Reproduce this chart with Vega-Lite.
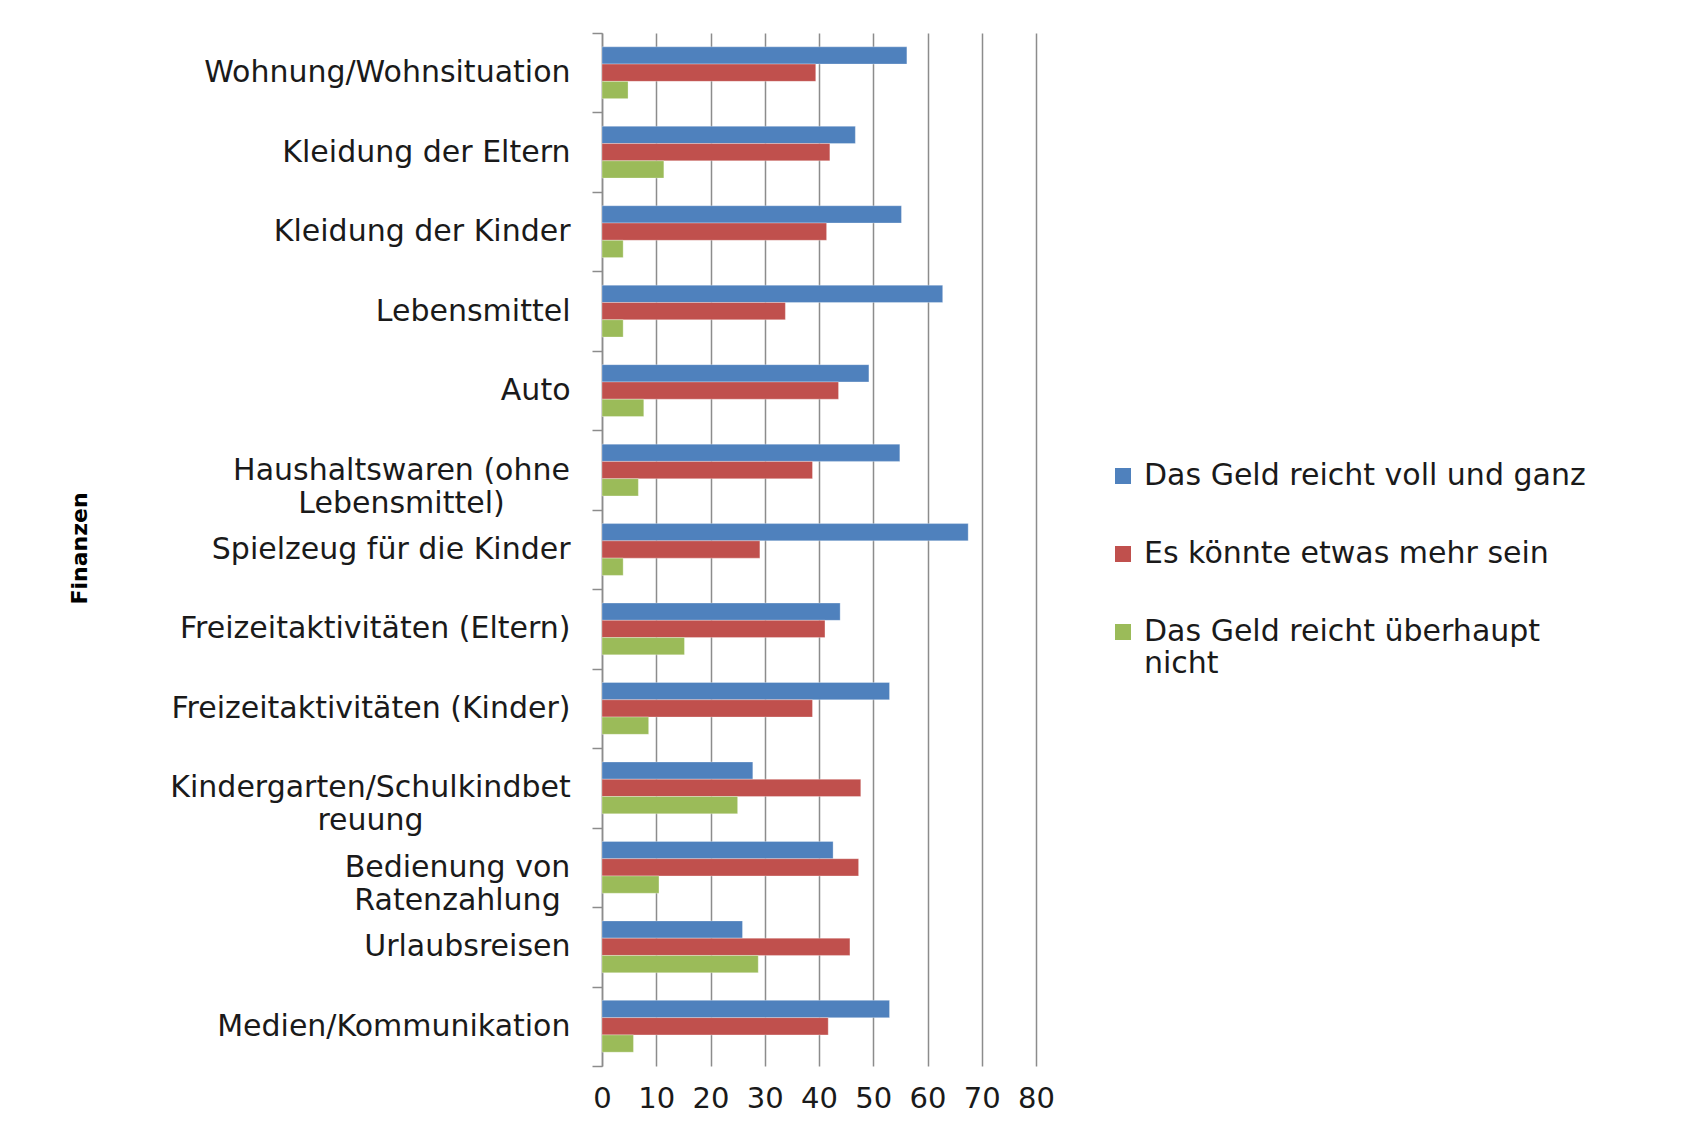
{
  "$schema": "https://vega.github.io/schema/vega-lite/v6.json",
  "width": 434,
  "height": 1033,
  "autosize": {"type": "none"},
  "padding": {"left": 602, "top": 33, "right": 652, "bottom": 61},
  "background": "white",
  "config": {
    "font": "DejaVu Sans",
    "view": {"stroke": null}
  },
  "data": {
    "values": [
      {"Bereich": "Wohnung/Wohnsituation", "Antwort": "Das Geld reicht voll und ganz", "Prozent": 56.2},
      {"Bereich": "Wohnung/Wohnsituation", "Antwort": "Es könnte etwas mehr sein", "Prozent": 39.4},
      {"Bereich": "Wohnung/Wohnsituation", "Antwort": "Das Geld reicht überhaupt nicht", "Prozent": 4.8},
      {"Bereich": "Kleidung der Eltern", "Antwort": "Das Geld reicht voll und ganz", "Prozent": 46.7},
      {"Bereich": "Kleidung der Eltern", "Antwort": "Es könnte etwas mehr sein", "Prozent": 42.0},
      {"Bereich": "Kleidung der Eltern", "Antwort": "Das Geld reicht überhaupt nicht", "Prozent": 11.4},
      {"Bereich": "Kleidung der Kinder", "Antwort": "Das Geld reicht voll und ganz", "Prozent": 55.2},
      {"Bereich": "Kleidung der Kinder", "Antwort": "Es könnte etwas mehr sein", "Prozent": 41.4},
      {"Bereich": "Kleidung der Kinder", "Antwort": "Das Geld reicht überhaupt nicht", "Prozent": 3.9},
      {"Bereich": "Lebensmittel", "Antwort": "Das Geld reicht voll und ganz", "Prozent": 62.8},
      {"Bereich": "Lebensmittel", "Antwort": "Es könnte etwas mehr sein", "Prozent": 33.8},
      {"Bereich": "Lebensmittel", "Antwort": "Das Geld reicht überhaupt nicht", "Prozent": 3.9},
      {"Bereich": "Auto", "Antwort": "Das Geld reicht voll und ganz", "Prozent": 49.2},
      {"Bereich": "Auto", "Antwort": "Es könnte etwas mehr sein", "Prozent": 43.6},
      {"Bereich": "Auto", "Antwort": "Das Geld reicht überhaupt nicht", "Prozent": 7.7},
      {"Bereich": "Haushaltswaren (ohne Lebensmittel)", "Antwort": "Das Geld reicht voll und ganz", "Prozent": 54.9},
      {"Bereich": "Haushaltswaren (ohne Lebensmittel)", "Antwort": "Es könnte etwas mehr sein", "Prozent": 38.8},
      {"Bereich": "Haushaltswaren (ohne Lebensmittel)", "Antwort": "Das Geld reicht überhaupt nicht", "Prozent": 6.7},
      {"Bereich": "Spielzeug für die Kinder", "Antwort": "Das Geld reicht voll und ganz", "Prozent": 67.5},
      {"Bereich": "Spielzeug für die Kinder", "Antwort": "Es könnte etwas mehr sein", "Prozent": 29.1},
      {"Bereich": "Spielzeug für die Kinder", "Antwort": "Das Geld reicht überhaupt nicht", "Prozent": 3.9},
      {"Bereich": "Freizeitaktivitäten (Eltern)", "Antwort": "Das Geld reicht voll und ganz", "Prozent": 43.9},
      {"Bereich": "Freizeitaktivitäten (Eltern)", "Antwort": "Es könnte etwas mehr sein", "Prozent": 41.1},
      {"Bereich": "Freizeitaktivitäten (Eltern)", "Antwort": "Das Geld reicht überhaupt nicht", "Prozent": 15.2},
      {"Bereich": "Freizeitaktivitäten (Kinder)", "Antwort": "Das Geld reicht voll und ganz", "Prozent": 53.0},
      {"Bereich": "Freizeitaktivitäten (Kinder)", "Antwort": "Es könnte etwas mehr sein", "Prozent": 38.8},
      {"Bereich": "Freizeitaktivitäten (Kinder)", "Antwort": "Das Geld reicht überhaupt nicht", "Prozent": 8.6},
      {"Bereich": "Kindergarten/Schulkindbetreuung", "Antwort": "Das Geld reicht voll und ganz", "Prozent": 27.8},
      {"Bereich": "Kindergarten/Schulkindbetreuung", "Antwort": "Es könnte etwas mehr sein", "Prozent": 47.7},
      {"Bereich": "Kindergarten/Schulkindbetreuung", "Antwort": "Das Geld reicht überhaupt nicht", "Prozent": 25.0},
      {"Bereich": "Bedienung von Ratenzahlung", "Antwort": "Das Geld reicht voll und ganz", "Prozent": 42.6},
      {"Bereich": "Bedienung von Ratenzahlung", "Antwort": "Es könnte etwas mehr sein", "Prozent": 47.3},
      {"Bereich": "Bedienung von Ratenzahlung", "Antwort": "Das Geld reicht überhaupt nicht", "Prozent": 10.5},
      {"Bereich": "Urlaubsreisen", "Antwort": "Das Geld reicht voll und ganz", "Prozent": 25.9},
      {"Bereich": "Urlaubsreisen", "Antwort": "Es könnte etwas mehr sein", "Prozent": 45.7},
      {"Bereich": "Urlaubsreisen", "Antwort": "Das Geld reicht überhaupt nicht", "Prozent": 28.8},
      {"Bereich": "Medien/Kommunikation", "Antwort": "Das Geld reicht voll und ganz", "Prozent": 53.0},
      {"Bereich": "Medien/Kommunikation", "Antwort": "Es könnte etwas mehr sein", "Prozent": 41.7},
      {"Bereich": "Medien/Kommunikation", "Antwort": "Das Geld reicht überhaupt nicht", "Prozent": 5.8}
    ]
  },
  "mark": {"type": "bar", "stroke": "white", "strokeOpacity": 0.5, "strokeWidth": 0.6},
  "encoding": {
    "y": {
      "field": "Bereich",
      "type": "nominal",
      "sort": null,
      "scale": {"paddingInner": 0, "paddingOuter": 0},
      "axis": {
        "title": "Finanzen",
        "titleFontSize": 22,
        "titleFontWeight": "bold",
        "titleColor": "#000000",
        "titleAngle": 270,
        "titleAlign": "center",
        "titleBaseline": "middle",
        "titleX": -523,
        "titleY": 515,
        "labelFontSize": 30,
        "labelColor": "#1a1a1a",
        "labelLimit": 0,
        "labelLineHeight": 33,
        "labelExpr": "datum.label == 'Haushaltswaren (ohne Lebensmittel)' ? ['Haushaltswaren (ohne', 'Lebensmittel)'] : datum.label == 'Kindergarten/Schulkindbetreuung' ? ['Kindergarten/Schulkindbet', 'reuung'] : datum.label == 'Bedienung von Ratenzahlung' ? ['Bedienung von', 'Ratenzahlung'] : datum.label",
        "labelAlign": {
          "condition": {"test": "indexof(['Haushaltswaren (ohne Lebensmittel)', 'Kindergarten/Schulkindbetreuung', 'Bedienung von Ratenzahlung'], datum.value) >= 0", "value": "center"},
          "value": "right"
        },
        "labelPadding": {
          "condition": [
            {"test": "datum.value == 'Haushaltswaren (ohne Lebensmittel)'", "value": 191},
            {"test": "datum.value == 'Kindergarten/Schulkindbetreuung'", "value": 222},
            {"test": "datum.value == 'Bedienung von Ratenzahlung'", "value": 135}
          ],
          "value": 22
        },
        "domainColor": "#8c8c8c",
        "domainWidth": 1.5,
        "tickColor": "#8c8c8c",
        "tickWidth": 1.5,
        "tickSize": 10,
        "tickBand": "extent",
        "grid": false
      }
    },
    "yOffset": {
      "field": "Antwort",
      "type": "nominal",
      "sort": ["Das Geld reicht voll und ganz", "Es könnte etwas mehr sein", "Das Geld reicht überhaupt nicht"],
      "scale": {"paddingInner": 0, "paddingOuter": 0.8}
    },
    "x": {
      "field": "Prozent",
      "type": "quantitative",
      "scale": {"domain": [0, 80], "nice": false},
      "axis": {
        "title": null,
        "values": [0, 10, 20, 30, 40, 50, 60, 70, 80],
        "domain": false,
        "ticks": false,
        "grid": true,
        "gridColor": "#8c8c8c",
        "gridWidth": 1.5,
        "labelFontSize": 29,
        "labelColor": "#1a1a1a",
        "labelPadding": 18,
        "labelFlush": false
      }
    },
    "color": {
      "field": "Antwort",
      "type": "nominal",
      "scale": {
        "domain": ["Das Geld reicht voll und ganz", "Es könnte etwas mehr sein", "Das Geld reicht überhaupt nicht"],
        "range": ["#4F81BD", "#C0504D", "#9BBB59"]
      },
      "legend": {
        "title": null,
        "orient": "none",
        "legendX": 506,
        "legendY": 428,
        "symbolType": "square",
        "symbolSize": 256,
        "symbolStrokeWidth": 0,
        "labelFontSize": 30,
        "labelColor": "#1a1a1a",
        "labelLimit": 0,
        "labelOffset": 6,
        "rowPadding": 48,
        "labelExpr": "datum.label == 'Das Geld reicht überhaupt nicht' ? ['Das Geld reicht überhaupt', 'nicht'] : datum.label"
      }
    }
  }
}
